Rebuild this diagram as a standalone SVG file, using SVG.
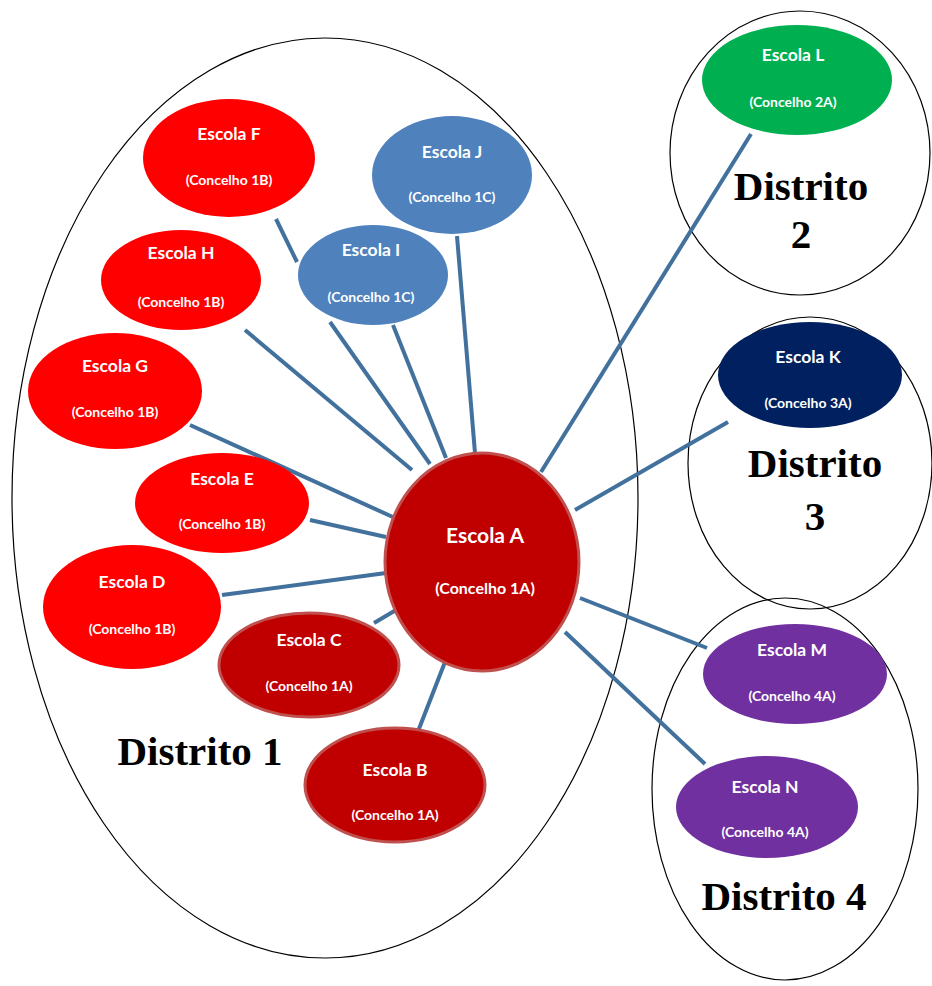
<svg xmlns="http://www.w3.org/2000/svg" width="932" height="986" viewBox="0 0 932 986">
<style>
.dist{fill:none;stroke:#000;stroke-width:1.2}
.dl{font-family:"Liberation Serif",serif;font-weight:bold;font-size:41px;fill:#000}
.ln{stroke:#41719C;stroke-width:4;stroke-linecap:butt}
.t{font-family:"Lato","Open Sans",sans-serif;font-weight:bold;fill:#fff;text-anchor:middle}
.t1{font-size:17.5px}
.t2{font-size:14px}
.dr{fill:#C00000;stroke:#C0504D;stroke-width:3}
.r{fill:#FF0000}
.b{fill:#4F81BD}
.g{fill:#00B050}
.n{fill:#002060}
.p{fill:#7030A0}
</style>
<g id="districts">
<ellipse class="dist" cx="325" cy="498" rx="313" ry="460"/>
<ellipse class="dist" cx="800" cy="153" rx="130" ry="142"/>
<ellipse class="dist" cx="810" cy="463" rx="122" ry="146"/>
<ellipse class="dist" cx="785" cy="789" rx="133" ry="191"/>
<text class="dl" x="200" y="765" text-anchor="middle">Distrito 1</text>
<text class="dl" x="801" y="200" text-anchor="middle">Distrito</text>
<text class="dl" x="801" y="248" text-anchor="middle">2</text>
<text class="dl" x="815" y="477" text-anchor="middle">Distrito</text>
<text class="dl" x="815" y="530" text-anchor="middle">3</text>
<text class="dl" x="784" y="910" text-anchor="middle">Distrito 4</text>
</g>
<g id="connectors">
<line class="ln" x1="276" y1="219" x2="297" y2="262"/>
<line class="ln" x1="457" y1="236" x2="475" y2="453"/>
<line class="ln" x1="330" y1="322" x2="430" y2="464"/>
<line class="ln" x1="393" y1="325" x2="446" y2="458"/>
<line class="ln" x1="245" y1="330" x2="412" y2="470"/>
<line class="ln" x1="190" y1="425" x2="395" y2="518"/>
<line class="ln" x1="310" y1="520" x2="386" y2="537"/>
<line class="ln" x1="222" y1="595" x2="386" y2="573"/>
<line class="ln" x1="374" y1="623" x2="396" y2="610"/>
<line class="ln" x1="415" y1="739" x2="445" y2="662"/>
<line class="ln" x1="751" y1="134" x2="541" y2="472"/>
<line class="ln" x1="728" y1="422" x2="575" y2="510"/>
<line class="ln" x1="580" y1="598" x2="707" y2="648"/>
<line class="ln" x1="565" y1="632" x2="705" y2="764"/>
</g>
<g id="escola-a"><ellipse class="dr" cx="482" cy="562" rx="97" ry="109"/><text class="t" x="485" y="543" font-size="21px">Escola A</text><text class="t" x="485" y="594" font-size="16px">(Concelho 1A)</text></g>
<g id="escola-b"><ellipse class="dr" cx="395" cy="785" rx="90" ry="57"/><text class="t t1" x="395" y="776">Escola B</text><text class="t t2" x="395" y="820">(Concelho 1A)</text></g>
<g id="escola-c"><ellipse class="dr" cx="309" cy="665" rx="90" ry="52"/><text class="t t1" x="309" y="646">Escola C</text><text class="t t2" x="309" y="691">(Concelho 1A)</text></g>
<g id="escola-d"><ellipse class="r" cx="132" cy="607" rx="89" ry="62"/><text class="t t1" x="132" y="588">Escola D</text><text class="t t2" x="132" y="634">(Concelho 1B)</text></g>
<g id="escola-e"><ellipse class="r" cx="222" cy="503" rx="87" ry="50"/><text class="t t1" x="222" y="485">Escola E</text><text class="t t2" x="222" y="529">(Concelho 1B)</text></g>
<g id="escola-g"><ellipse class="r" cx="115" cy="391" rx="87" ry="58"/><text class="t t1" x="115" y="372">Escola G</text><text class="t t2" x="115" y="417">(Concelho 1B)</text></g>
<g id="escola-h"><ellipse class="r" cx="181" cy="280" rx="80" ry="50"/><text class="t t1" x="181" y="259">Escola H</text><text class="t t2" x="181" y="307">(Concelho 1B)</text></g>
<g id="escola-f"><ellipse class="r" cx="229" cy="158" rx="86" ry="59"/><text class="t t1" x="229" y="140">Escola F</text><text class="t t2" x="229" y="185">(Concelho 1B)</text></g>
<g id="escola-i"><ellipse class="b" cx="373" cy="275" rx="75" ry="50"/><text class="t t1" x="371" y="256">Escola I</text><text class="t t2" x="371" y="302">(Concelho 1C)</text></g>
<g id="escola-j"><ellipse class="b" cx="452" cy="175" rx="80" ry="59"/><text class="t t1" x="452" y="158">Escola J</text><text class="t t2" x="452" y="202">(Concelho 1C)</text></g>
<g id="escola-l"><ellipse class="g" cx="797" cy="80" rx="95" ry="55"/><text class="t t1" x="793" y="61">Escola L</text><text class="t t2" x="793" y="107">(Concelho 2A)</text></g>
<g id="escola-k"><ellipse class="n" cx="810" cy="375" rx="92" ry="53"/><text class="t t1" x="808" y="363">Escola K</text><text class="t t2" x="808" y="408">(Concelho 3A)</text></g>
<g id="escola-m"><ellipse class="p" cx="795" cy="674" rx="92" ry="50"/><text class="t t1" x="792" y="656">Escola M</text><text class="t t2" x="792" y="701">(Concelho 4A)</text></g>
<g id="escola-n"><ellipse class="p" cx="767" cy="807" rx="91" ry="51"/><text class="t t1" x="765" y="793">Escola N</text><text class="t t2" x="765" y="837">(Concelho 4A)</text></g>
</svg>
